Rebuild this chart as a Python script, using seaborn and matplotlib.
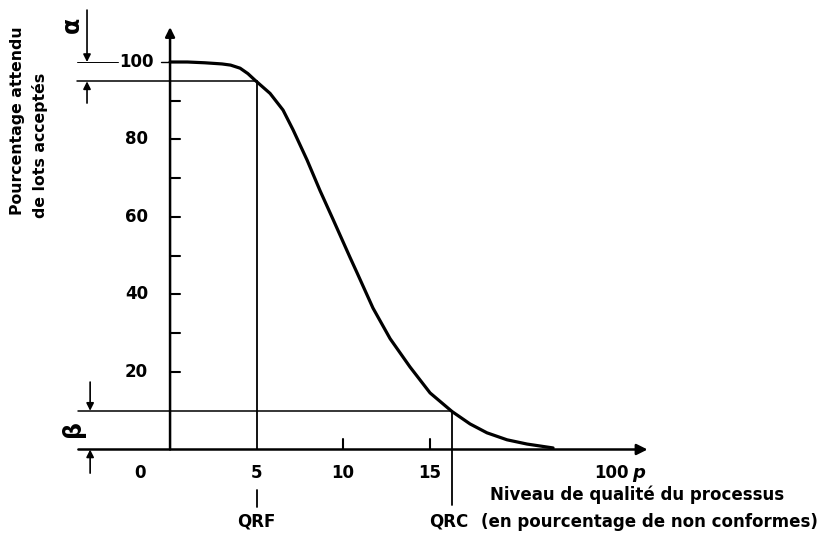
import numpy as np
import pandas as pd
import seaborn as sns
import matplotlib.pyplot as plt

sns.set_theme(style="white")
plt.rcParams['font.family'] = ['DejaVu Sans']
plt.rcParams['text.color'] = 'black'

# operating characteristic curve
p_values = [0, 1.0, 2.0, 3.0, 3.5, 4.05, 4.5, 4.91, 5.78, 6.53, 7.11, 7.92, 8.67, 9.42,
            10.4, 10.81, 11.73, 12.72, 13.87, 15.03, 16.3, 17.34, 18.32, 19.48, 20.64, 22.14]
accept_pct = [100, 100, 99.8, 99.5, 99.2, 98.4, 97.0, 95.3, 91.9, 87.6, 82.5, 74.7, 66.8, 59.4,
              49.6, 45.6, 36.5, 28.6, 21.3, 14.6, 9.8, 6.6, 4.3, 2.5, 1.4, 0.4]

y_labels = [20, 40, 60, 80, 100]
y_minor = [20, 30, 40, 50, 60, 70, 80, 90]
x_labels = ["0", "5", "10", "15"]
x_label_pos = [-1.73, 5, 10, 15]
x_minor = [10, 15]

qrf = 5.0
qrc = 16.3
alpha_level = 95
beta_level = 10

df = pd.DataFrame({"p": p_values, "pa": accept_pct})

fig = plt.figure(figsize=(8.2, 5.33), dpi=100)
ax = fig.add_axes([0, 0, 1, 1])
ax.set_xlim(-9.83, 37.57)
ax.set_ylim(-21.55, 116.0)
ax.axis("off")

sns.lineplot(data=df, x="p", y="pa", color="black", lw=2.3, ax=ax)

fw = "bold"
fs = 12

# axes with arrows
ax.annotate("", xy=(27.6, 0), xytext=(-5.3, 0),
            arrowprops=dict(arrowstyle="-|>", lw=1.8, color="black", mutation_scale=16, shrinkA=0, shrinkB=0))
ax.annotate("", xy=(0, 109), xytext=(0, 0),
            arrowprops=dict(arrowstyle="-|>", lw=1.8, color="black", mutation_scale=14, shrinkA=0, shrinkB=0))

# y ticks
for v in y_minor:
    ax.plot([0, 0.6], [v, v], color="black", lw=1.5)
ax.plot([-0.55, 0], [100, 100], color="black", lw=1.0)
for v in y_labels:
    ax.text(-1.95, v, str(v), ha="center", va="center", fontsize=fs, fontweight=fw)

# x ticks
for v in x_minor:
    ax.plot([v, v], [0, 2.6], color="black", lw=1.5)
for lab, pos in zip(x_labels, x_label_pos):
    ax.text(pos, -6.1, lab, ha="center", va="center", fontsize=fs, fontweight=fw)
ax.text(26.5, -6.1, "100", ha="right", va="center", fontsize=fs, fontweight=fw)
ax.text(26.7, -6.1, "p", ha="left", va="center", fontsize=fs + 1, fontweight=fw, style="italic")

# reference lines
ax.plot([-5.4, -3.0], [100, 100], color="black", lw=0.7)
ax.plot([-5.4, qrf], [alpha_level, alpha_level], color="black", lw=1.1)
ax.plot([-5.3, qrc], [beta_level, beta_level], color="black", lw=1.1)
ax.plot([qrf, qrf], [0, alpha_level], color="black", lw=1.3)
ax.plot([qrc, qrc], [-14.3, beta_level], color="black", lw=1.3)
ax.plot([qrf, qrf], [-10.4, -14.8], color="black", lw=1.3)

# alpha / beta dimension arrows
arr = dict(arrowstyle="-|>", lw=1.2, color="black", mutation_scale=11, shrinkA=0, shrinkB=0)
ax.annotate("", xy=(-4.8, 100), xytext=(-4.8, 113.4), arrowprops=arr)
ax.annotate("", xy=(-4.8, alpha_level), xytext=(-4.8, 89.4), arrowprops=arr)
ax.annotate("", xy=(-4.62, beta_level), xytext=(-4.62, 17.4), arrowprops=arr)
ax.annotate("", xy=(-4.62, 0), xytext=(-4.62, -6.1), arrowprops=arr)
ax.text(-5.7, 109.5, "α", rotation=90, ha="center", va="center", fontsize=17, fontweight=fw)
ax.text(-5.6, 5.5, "β", rotation=90, ha="center", va="center", fontsize=17, fontweight=fw)

# labels
ax.text(5.0, -18.7, "QRF", ha="center", va="center", fontsize=fs, fontweight=fw)
ax.text(16.1, -18.7, "QRC", ha="center", va="center", fontsize=fs, fontweight=fw)
ax.text(18.5, -11.7, "Niveau de qualité du processus", ha="left", va="center", fontsize=fs, fontweight=fw)
ax.text(18.0, -18.7, "(en pourcentage de non conformes)", ha="left", va="center", fontsize=fs, fontweight=fw)

ax.text(-8.84, 60.5, "Pourcentage attendu", rotation=90, rotation_mode="anchor",
        ha="left", va="center", fontsize=11.3, fontweight=fw)
ax.text(-7.51, 59.7, "de lots acceptés", rotation=90, rotation_mode="anchor",
        ha="left", va="center", fontsize=11.3, fontweight=fw)

fig.savefig("out.png", dpi=100)
